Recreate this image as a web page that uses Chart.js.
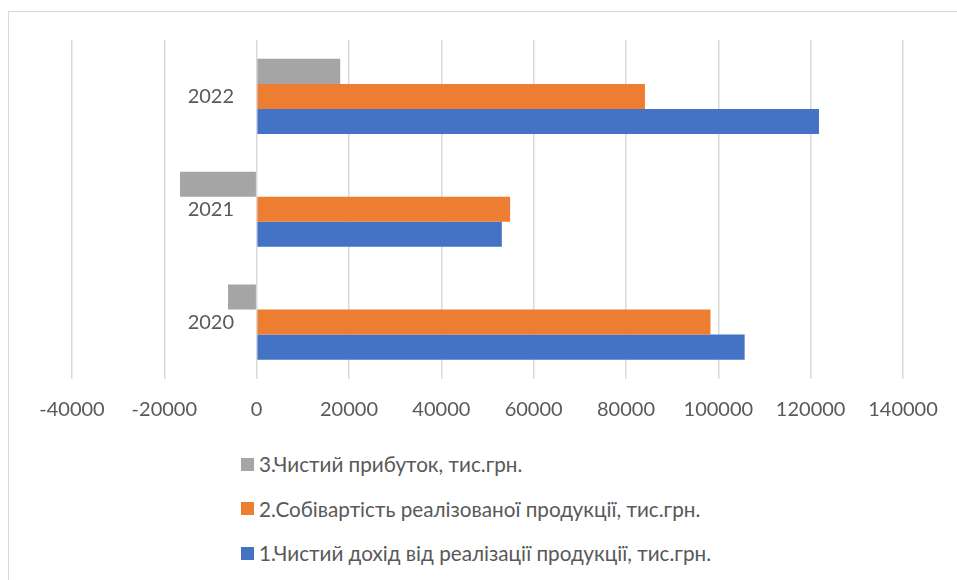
<!DOCTYPE html>
<html>
<head>
<meta charset="utf-8">
<script src="https://cdn.jsdelivr.net/npm/chart.js@4"></script>
<style>
    body { margin: 0; width: 957px; height: 580px; overflow: hidden; background: #fff;
           font-family: Lato, "Noto Sans", sans-serif; }
    .frame { position: absolute; left: 8px; top: 11px; width: 1000px; height: 1000px;
             border: 1px solid #d9d9d9; }
    .plot { position: absolute; left: 0; top: 0; width: 957px; height: 440px; }
    #legend { position: absolute; left: 241px; top: 454px; color: #595959; font-size: 20.7px; }
    .item { display: flex; align-items: center; height: 20px; margin-bottom: 24.5px; white-space: nowrap; }
    .box { width: 13px; height: 13px; margin-right: 5px; flex: none; }
</style>
</head>
<body>
<div class="frame"></div>
<div class="plot"><canvas id="barChart"></canvas></div>
<div id="legend"></div>
<script>
const years = ["2020", "2021", "2022"];
const revenue = [105700, 53100, 121800];   // 1. чистий дохід
const cost = [98300, 54900, 84100];         // 2. собівартість
const profit = [-6200, -16600, 18100];      // 3. чистий прибуток
const seriesNames = [
    "3.Чистий прибуток, тис.грн.",
    "2.Собівартість реалізованої продукції, тис.грн.",
    "1.Чистий дохід від реалізації продукції, тис.грн."
];
const xMin = -40000, xMax = 140000, xStep = 20000;

const textColor = "#595959";
const fontFamily = "Lato, 'Noto Sans', sans-serif";

const datasets = [
    { label: seriesNames[0], data: profit, backgroundColor: "#a5a5a5" },
    { label: seriesNames[1], data: cost, backgroundColor: "#ed7d31" },
    { label: seriesNames[2], data: revenue, backgroundColor: "#4472c4" }
];

const ctx = document.getElementById("barChart").getContext("2d");
const chart = new Chart(ctx, {
    type: "bar",
    data: {
        labels: years,
        datasets: datasets.map(d => ({ ...d, barPercentage: 1, categoryPercentage: 0.666 }))
    },
    options: {
        indexAxis: "y",
        responsive: true,
        maintainAspectRatio: false,
        animation: false,
        layout: { padding: { left: 72, right: 54, top: 40, bottom: 0 } },
        plugins: { legend: { display: false }, tooltip: { enabled: false } },
        scales: {
            x: {
                min: xMin,
                max: xMax,
                grid: { color: "#d9d9d9", lineWidth: 1.5, drawTicks: false },
                border: { display: false },
                ticks: {
                    stepSize: xStep,
                    color: textColor,
                    padding: 19,
                    maxRotation: 0,
                    font: { family: fontFamily, size: 20 },
                    callback: v => String(v)
                },
                afterFit: scale => { scale.height = 61.5; }
            },
            y: {
                reverse: true,
                // year labels sit just left of the zero line (tick padding is ignored here)
                position: { x: -4900 },
                grid: { display: false },
                border: { display: false },
                ticks: {
                    color: textColor,
                    font: { family: fontFamily, size: 20 }
                }
            }
        }
    }
});

// legend: one entry per line, same order as the bars inside a group
const legend = document.getElementById("legend");
legend.innerHTML = datasets.map(d =>
    `<div class="item"><span class="box" style="background:${d.backgroundColor}"></span>${d.label}</div>`
).join("");
</script>
</body>
</html>
